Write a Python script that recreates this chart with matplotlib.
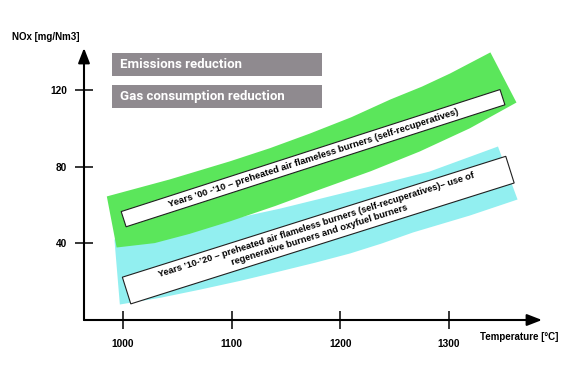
import numpy as np
import matplotlib
matplotlib.use("Agg")
import matplotlib.pyplot as plt
from matplotlib.patches import Polygon, Rectangle
from matplotlib.transforms import IdentityTransform

# ---------------- data ----------------
x_ticks = [1000, 1100, 1200, 1300]
y_ticks = [40, 80, 120]

# Band 1 (years '00-'10, green)
green_upper_T = [985, 1043, 1098, 1135, 1172, 1210, 1246, 1275, 1301, 1338]
green_upper_N = [64.6, 73.5, 82.9, 89.8, 97.5, 106.0, 115.3, 122.0, 128.9, 139.9]
green_lower_T = [994, 1029, 1061, 1098, 1140, 1181, 1228, 1273, 1319, 1362]
green_lower_N = [37.9, 40.2, 45.0, 51.5, 59.6, 68.2, 77.8, 88.1, 100.2, 113.7]

# Band 2 (years '10-'20, cyan)
cyan_upper_T = [992, 1098, 1145, 1190, 1236, 1282, 1345]
cyan_upper_N = [42.1, 52.5, 58.3, 64.6, 71.0, 77.6, 90.7]
cyan_lower_T = [997, 1035, 1071, 1108, 1144, 1177, 1209, 1238, 1267, 1319, 1363]
cyan_lower_N = [8.1, 11.7, 15.9, 20.5, 25.4, 30.0, 34.8, 40.0, 45.8, 54.6, 63.0]

label_band1 = "Years \u201900 -\u201910 \u2013 preheated air flameless burners (self-recuperatives)"
label_band2 = ("Years \u201910-\u201920 \u2013 preheated air flameless burners (self-recuperatives)\u2013 use of\n"
               "regenerative burners and oxyfuel burners")
goals = ["Emissions reduction", "Gas consumption reduction"]

# ---------------- figure ----------------
W, H = 585, 366
fig = plt.figure(figsize=(W / 100, H / 100), dpi=100)
ax = fig.add_axes([84 / W, 46 / H, (542 - 84) / W, (320 - 48) / H])
ax.set_xlim(964, 1385.5)
ax.set_ylim(0, 142.2)
for s in ax.spines.values():
    s.set_visible(False)
ax.patch.set_alpha(0)

bold = dict(family="Liberation Sans", weight="bold")

# axes with arrows
arrow = dict(arrowstyle="-|>,head_length=0.9,head_width=0.35", lw=1.5, color="black",
             shrinkA=0, shrinkB=0, mutation_scale=10)
ax.annotate("", xy=(0, 1), xytext=(0, 0), xycoords="axes fraction", arrowprops=arrow)
ax.annotate("", xy=(1, 0), xytext=(0, 0), xycoords="axes fraction", arrowprops=arrow)

ax.set_xticks(x_ticks)
ax.set_yticks(y_ticks)
ax.set_xticklabels([str(t) for t in x_ticks], fontsize=7.3, **bold)
ax.set_yticklabels([str(t) for t in y_ticks], fontsize=7.3, **bold)
ax.tick_params(axis="both", direction="inout", length=13, width=1.1, color="black")
ax.tick_params(axis="x", pad=7)
ax.tick_params(axis="y", pad=5.5)

# bands
cy = np.column_stack([cyan_upper_T + cyan_lower_T[::-1], cyan_upper_N + cyan_lower_N[::-1]])
ax.add_patch(Polygon(cy, closed=True, facecolor="#92eff0", edgecolor="none", zorder=2, clip_on=False))
gr = np.column_stack([green_upper_T + green_lower_T[::-1], green_upper_N + green_lower_N[::-1]])
ax.add_patch(Polygon(gr, closed=True, facecolor="#5be65b", edgecolor="none", zorder=3, clip_on=False))


def rot_box(cx, cy_, length, thick, angle, text, fs, ls):
    x0, y0 = ax.transData.transform((cx, cy_))
    a = np.deg2rad(angle)
    u = np.array([np.cos(a), np.sin(a)])
    v = np.array([-np.sin(a), np.cos(a)])
    c = np.array([x0, y0])
    pts = [c - u * length / 2 - v * thick / 2, c + u * length / 2 - v * thick / 2,
           c + u * length / 2 + v * thick / 2, c - u * length / 2 + v * thick / 2]
    ax.add_patch(Polygon(pts, closed=True, facecolor="white", edgecolor="#202020", lw=0.8,
                         transform=IdentityTransform(), zorder=4, clip_on=False))
    ax.text(cx, cy_, text, rotation=angle, rotation_mode="anchor", ha="center", va="center",
            fontsize=fs, zorder=5, linespacing=ls, multialignment="center", **bold)


rot_box(1174.8, 84.6, 398, 16, 17.85, label_band1, 6.8, 1.0)
rot_box(1179.6, 47.0, 402, 28, 17.5, label_band2, 6.7, 1.3)

# gray goal boxes (figure pixels)
for i, g in enumerate(goals):
    top = 53 + i * 32
    fig.patches.append(Rectangle((112 / W, 1 - (top + 23) / H), 210 / W, 23 / H,
                                 transform=fig.transFigure, facecolor="#8f8a8f",
                                 edgecolor="none", zorder=1))
    fig.text(120 / W, 1 - (top + 11.5) / H, g, color="white", fontsize=9.5,
             family="Roboto", weight="bold", va="center", ha="left")

# axis titles
fig.text(12 / W, 1 - 37 / H, "NOx [mg/Nm3]", fontsize=7, va="center", ha="left", **bold)
fig.text(480 / W, 1 - 337 / H, "Temperature [\u00b0C]", fontsize=7, va="center", ha="left", **bold)

fig.savefig("out.png", dpi=100)
